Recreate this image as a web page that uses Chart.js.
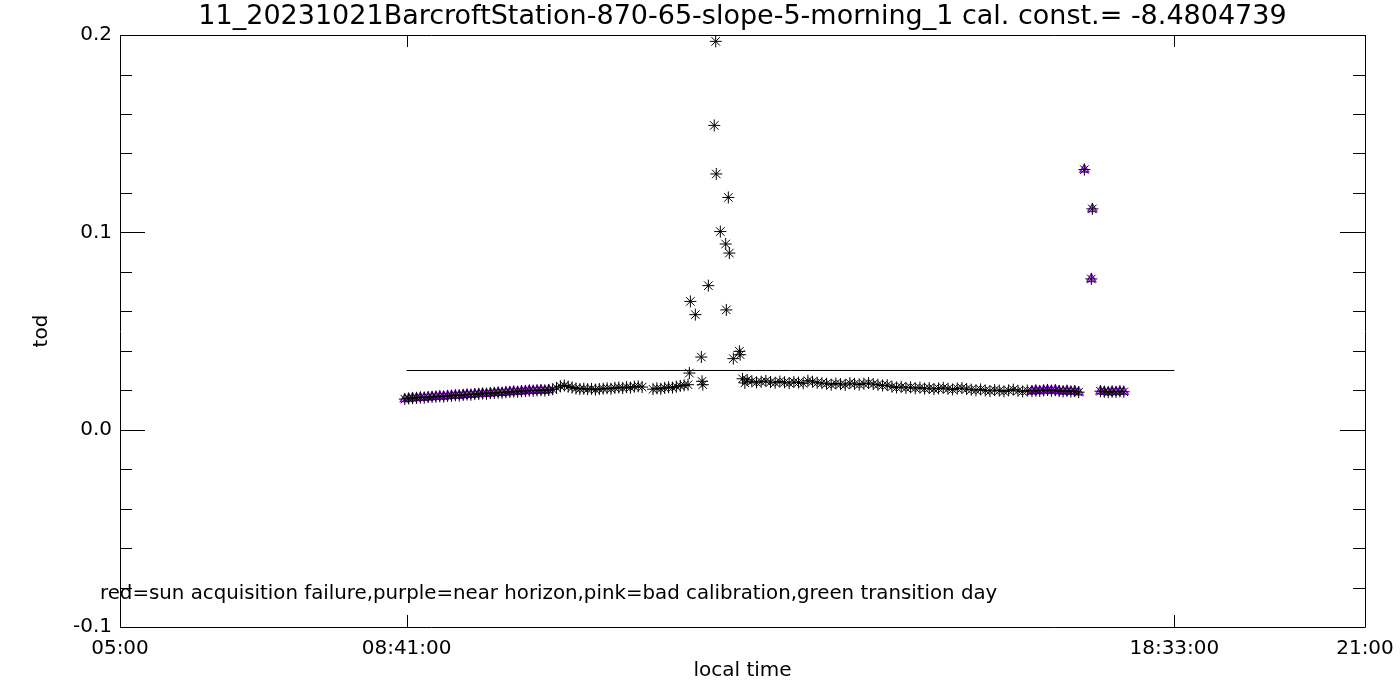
<!DOCTYPE html>
<html>
<head>
<meta charset="utf-8">
<script src="https://cdn.jsdelivr.net/npm/chart.js@4.4.0/dist/chart.umd.min.js"></script>
<style>
  body { margin: 0; background: #fff; }
  canvas { display: block; }
</style>
</head>
<body>
<canvas id="todChart" width="1400" height="700"></canvas>
<script>
// local time in decimal hours, tod values
var dayTimes = [
  10.56, 10.61, 10.66, 10.71, 10.76, 10.81, 10.86, 10.91, 10.96, 11.01, 11.06, 11.11,
  11.16, 11.21, 11.26, 11.31, 11.36, 11.41, 11.46, 11.51, 11.56, 11.61, 11.66, 11.71,
  11.85, 11.90, 11.95, 12.00, 12.05, 12.10, 12.15, 12.20, 12.25,
  12.30, 12.317, 12.33, 12.394, 12.471, 12.48, 12.49, 12.561, 12.637, 12.656, 12.663,
  12.715, 12.784, 12.792, 12.818, 12.831, 12.882, 12.96, 12.97, 13.00, 13.03,
  13.06, 13.12, 13.18, 13.24, 13.30, 13.36, 13.42, 13.48, 13.54, 13.60, 13.66, 13.72,
  13.78, 13.84, 13.90, 13.96, 14.02, 14.08, 14.14, 14.20, 14.26, 14.32, 14.38, 14.44,
  14.50, 14.56, 14.62, 14.68, 14.74, 14.80, 14.86, 14.92, 14.98, 15.04, 15.10, 15.16,
  15.22, 15.28, 15.34, 15.40, 15.46, 15.52, 15.58, 15.64, 15.70, 15.76, 15.82, 15.88,
  15.94, 16.00, 16.06, 16.12, 16.18, 16.24, 16.30, 16.36, 16.42, 16.48, 16.54, 16.60, 16.66
];
var dayTod = [
  0.0205, 0.0212, 0.0220, 0.0224, 0.0218, 0.0214, 0.0209, 0.0206, 0.0208, 0.0205, 0.0207, 0.0203,
  0.0206, 0.0208, 0.0210, 0.0207, 0.0212, 0.0214, 0.0211, 0.0216, 0.0213, 0.0218, 0.0220, 0.0216,
  0.0205, 0.0210, 0.0207, 0.0212, 0.0215, 0.0213, 0.0218, 0.0222, 0.0225,
  0.0228, 0.0287, 0.0650, 0.0583, 0.0368, 0.0245, 0.0228, 0.0730, 0.1542, 0.1968, 0.1296,
  0.1004, 0.0941, 0.0607, 0.1177, 0.0895, 0.0360, 0.0397, 0.0380, 0.0258, 0.0237,
  0.0252, 0.0245, 0.0240, 0.0243, 0.0247, 0.0241, 0.0238, 0.0244, 0.0240, 0.0236, 0.0242, 0.0239,
  0.0235, 0.0248, 0.0243, 0.0238, 0.0236, 0.0233, 0.0228, 0.0234, 0.0231, 0.0227, 0.0236, 0.0232,
  0.0229, 0.0233, 0.0236, 0.0231, 0.0228, 0.0224, 0.0226, 0.0218, 0.0214, 0.0217, 0.0212, 0.0215,
  0.0210, 0.0213, 0.0208, 0.0211, 0.0206, 0.0209, 0.0212, 0.0207, 0.0204, 0.0209, 0.0211, 0.0206,
  0.0203, 0.0200, 0.0204, 0.0199, 0.0196, 0.0201, 0.0198, 0.0194, 0.0199, 0.0203, 0.0197, 0.0194, 0.0198
];
// near horizon points (purple)
var horizonTimes = [
  8.66, 8.71, 8.76, 8.81, 8.86, 8.91, 8.96, 9.01, 9.06, 9.11, 9.16, 9.21, 9.26, 9.31,
  9.36, 9.41, 9.46, 9.51, 9.56, 9.61, 9.66, 9.71, 9.76, 9.81, 9.86, 9.91, 9.96, 10.01,
  10.06, 10.11, 10.16, 10.21, 10.26, 10.31, 10.36, 10.41, 10.46, 10.51,
  16.72, 16.77, 16.82, 16.87, 16.92, 16.97, 17.02, 17.07, 17.12, 17.17, 17.22, 17.27, 17.32,
  17.393, 17.483, 17.496,
  17.60, 17.65, 17.70, 17.75, 17.80, 17.85, 17.90
];
var horizonTod = [
  0.0155, 0.0158, 0.0160, 0.0161, 0.0163, 0.0162, 0.0165, 0.0166, 0.0167, 0.0169, 0.0168, 0.0171, 0.0172, 0.0174,
  0.0173, 0.0176, 0.0178, 0.0177, 0.0180, 0.0181, 0.0183, 0.0182, 0.0185, 0.0186, 0.0188, 0.0187, 0.0190, 0.0191,
  0.0193, 0.0192, 0.0195, 0.0196, 0.0198, 0.0197, 0.0199, 0.0200, 0.0198, 0.0201,
  0.0195, 0.0198, 0.0196, 0.0199, 0.0201, 0.0197, 0.0200, 0.0196, 0.0194, 0.0197, 0.0193, 0.0195, 0.0190,
  0.1318, 0.0764, 0.1119,
  0.0195, 0.0192, 0.0190, 0.0193, 0.0191, 0.0194, 0.0192
];
var fitTimes = [8.6833, 18.55];
var fitTod = [0.03, 0.03];

var xTickVals = [5, 8.6833, 18.55, 21];
var xTickLabels = ['05:00', '08:41:00', '18:33:00', '21:00'];
var yMajor = [-0.1, 0, 0.1, 0.2];

var titleText = '11_20231021BarcroftStation-870-65-slope-5-morning_1 cal. const.= -8.4804739';
var noteText = 'red=sun acquisition failure,purple=near horizon,pink=bad calibration,green transition day';

var FONT = 'DejaVu Sans';
var PURPLE = '#a000ff';

function pts(xs, ys) {
  return xs.map(function (x, i) { return { x: x, y: ys[i] }; });
}

// frame with inward ticks like the IDL plot, plus the footnote
var framePlugin = {
  id: 'frame',
  afterDatasetsDraw: function (chart) {
    var ctx = chart.ctx;
    var a = chart.chartArea;
    var xs = chart.scales.x, ys = chart.scales.y;
    ctx.save();
    ctx.strokeStyle = '#000';
    ctx.lineWidth = 1;
    ctx.beginPath();
    ctx.rect(Math.round(a.left) + 0.5, Math.round(a.top) + 0.5, Math.round(a.right - a.left), Math.round(a.bottom - a.top));
    // y ticks, major and minor, both sides
    for (var i = 0; i <= 15; i++) {
      var v = -0.1 + i * 0.02;
      var py = Math.round(ys.getPixelForValue(v)) + 0.5;
      var len = (i % 5 === 0) ? 25 : 12;
      ctx.moveTo(a.left, py); ctx.lineTo(a.left + len, py);
      ctx.moveTo(a.right, py); ctx.lineTo(a.right - len, py);
    }
    // x ticks, bottom and top
    xTickVals.forEach(function (t) {
      var px = Math.round(xs.getPixelForValue(t)) + 0.5;
      ctx.moveTo(px, a.bottom); ctx.lineTo(px, a.bottom - 12);
      ctx.moveTo(px, a.top); ctx.lineTo(px, a.top + 12);
    });
    ctx.stroke();
    ctx.fillStyle = '#000';
    ctx.font = '19.8px "' + FONT + '"';
    ctx.textBaseline = 'middle';
    ctx.textAlign = 'left';
    ctx.fillText(noteText, 100, 594);
    ctx.restore();
  }
};

new Chart(document.getElementById('todChart'), {
  type: 'scatter',
  data: {
    datasets: [{
      type: 'line',
      data: pts(fitTimes, fitTod),
      borderColor: '#000',
      borderWidth: 1,
      pointRadius: 0,
      fill: false
    }, {
      data: pts(dayTimes.concat(horizonTimes), dayTod.concat(horizonTod)),
      pointStyle: 'star',
      pointRadius: 6,
      borderColor: '#000',
      backgroundColor: '#000',
      borderWidth: 1
    }, {
      data: pts(horizonTimes, horizonTod),
      pointStyle: 'triangle',
      pointRadius: 5,
      borderColor: PURPLE,
      backgroundColor: 'rgba(0,0,0,0)',
      borderWidth: 1.5
    }]
  },
  options: {
    responsive: false,
    animation: false,
    layout: { padding: { top: 0, right: 35, bottom: 0, left: 0 } },
    plugins: {
      legend: { display: false },
      tooltip: { enabled: false },
      title: {
        display: true,
        fullSize: false,
        text: titleText,
        color: '#000',
        font: { family: FONT, size: 27, weight: 'normal', lineHeight: 1.15 },
        padding: { top: 1, bottom: 3 }
      }
    },
    scales: {
      x: {
        type: 'linear',
        min: 5,
        max: 21,
        grid: { display: false, drawTicks: false },
        border: { display: false },
        afterBuildTicks: function (s) {
          s.ticks = xTickVals.map(function (v) { return { value: v }; });
        },
        afterFit: function (s) {
          s.height = 73;
          s.paddingLeft = 0;
          s.paddingRight = 0;
        },
        ticks: {
          color: '#000',
          font: { family: FONT, size: 20 },
          padding: 10,
          maxRotation: 0,
          autoSkip: false,
          callback: function (v) {
            var i = xTickVals.indexOf(v);
            return i >= 0 ? xTickLabels[i] : '';
          }
        },
        title: {
          display: true,
          text: 'local time',
          color: '#000',
          font: { family: FONT, size: 20 },
          padding: { top: 0, bottom: 17 }
        }
      },
      y: {
        min: -0.1,
        max: 0.2,
        grid: { display: false, drawTicks: false },
        border: { display: false },
        afterBuildTicks: function (s) {
          s.ticks = yMajor.map(function (v) { return { value: v }; });
        },
        afterFit: function (s) {
          s.width = 120;
          s.paddingTop = 0;
          s.paddingBottom = 0;
        },
        ticks: {
          color: '#000',
          font: { family: FONT, size: 20 },
          padding: 8,
          callback: function (v) { return v.toFixed(1); }
        },
        title: {
          display: true,
          text: 'tod',
          color: '#000',
          font: { family: FONT, size: 20 },
          padding: { top: 30, bottom: 0 }
        }
      }
    }
  },
  plugins: [framePlugin]
});
</script>
</body>
</html>
